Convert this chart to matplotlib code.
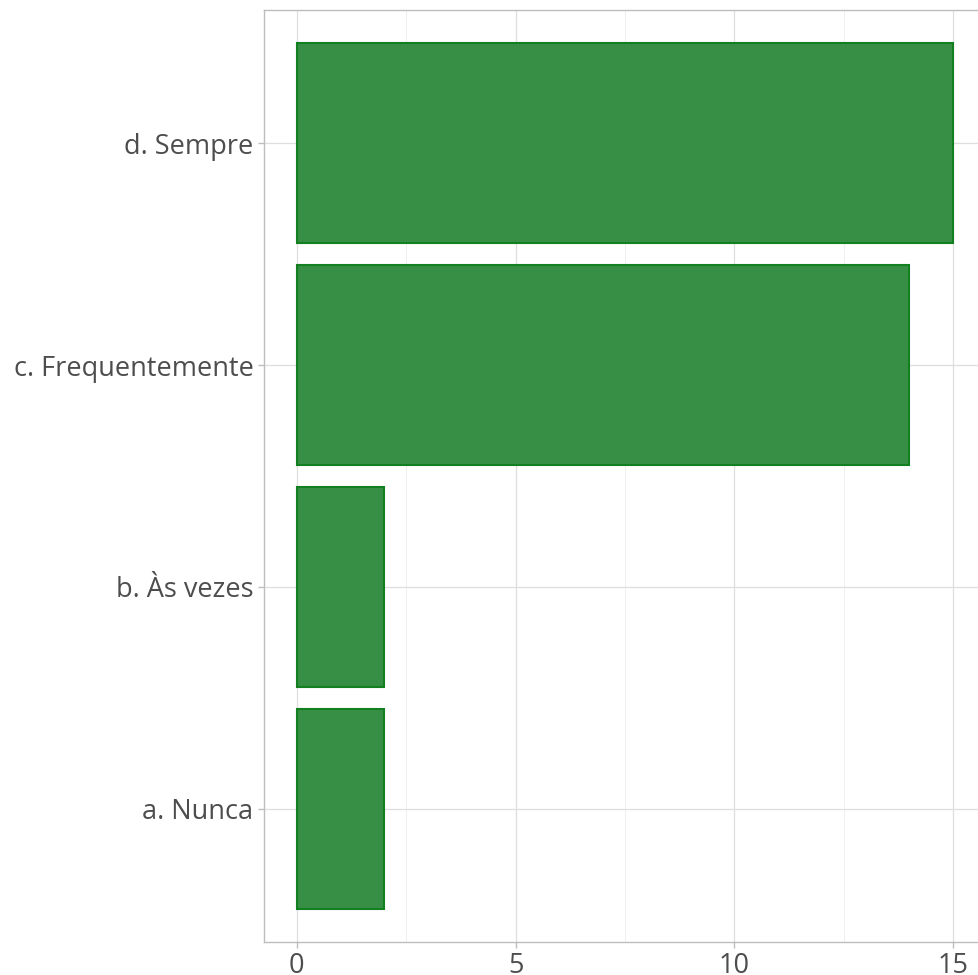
import matplotlib
matplotlib.use("Agg")
import matplotlib.pyplot as plt
from matplotlib.ticker import MultipleLocator

plt.rcParams["font.family"] = ["Open Sans", "DejaVu Sans"]

# dados do gráfico
categorias = ["a. Nunca", "b. Às vezes", "c. Frequentemente", "d. Sempre"]
contagens = [2, 2, 14, 15]
x_ticks = [0, 5, 10, 15]

fig = plt.figure(figsize=(9.79, 9.75), dpi=100)
ax = fig.add_axes([264 / 979, 33 / 975, 722 / 979, 932 / 975])

pos = list(range(1, len(categorias) + 1))
ax.barh(pos, contagens, height=0.9, color="#378f45", edgecolor="#12801f",
        linewidth=1.5, zorder=3)

ax.set_xlim(-0.75, 15.75)
ax.set_ylim(0.4, 4.6)
ax.set_yticks(pos)
ax.set_yticklabels(categorias)
ax.set_xticks(x_ticks)
ax.xaxis.set_minor_locator(MultipleLocator(2.5))

ax.grid(True, which="major", color="#dedede", linewidth=0.9, zorder=0)
ax.grid(True, which="minor", axis="x", color="#ececec", linewidth=0.6, zorder=0)
ax.set_axisbelow(True)

for s in ax.spines.values():
    s.set_color("#bdbdbd")
    s.set_linewidth(1.0)

ax.tick_params(axis="both", which="major", colors="#bdbdbd", length=4.5,
               width=1.0, labelcolor="#4d4d4d", labelsize=19.5, pad=3)
ax.tick_params(axis="both", which="minor", length=0)

fig.savefig("out.png", dpi=100)
